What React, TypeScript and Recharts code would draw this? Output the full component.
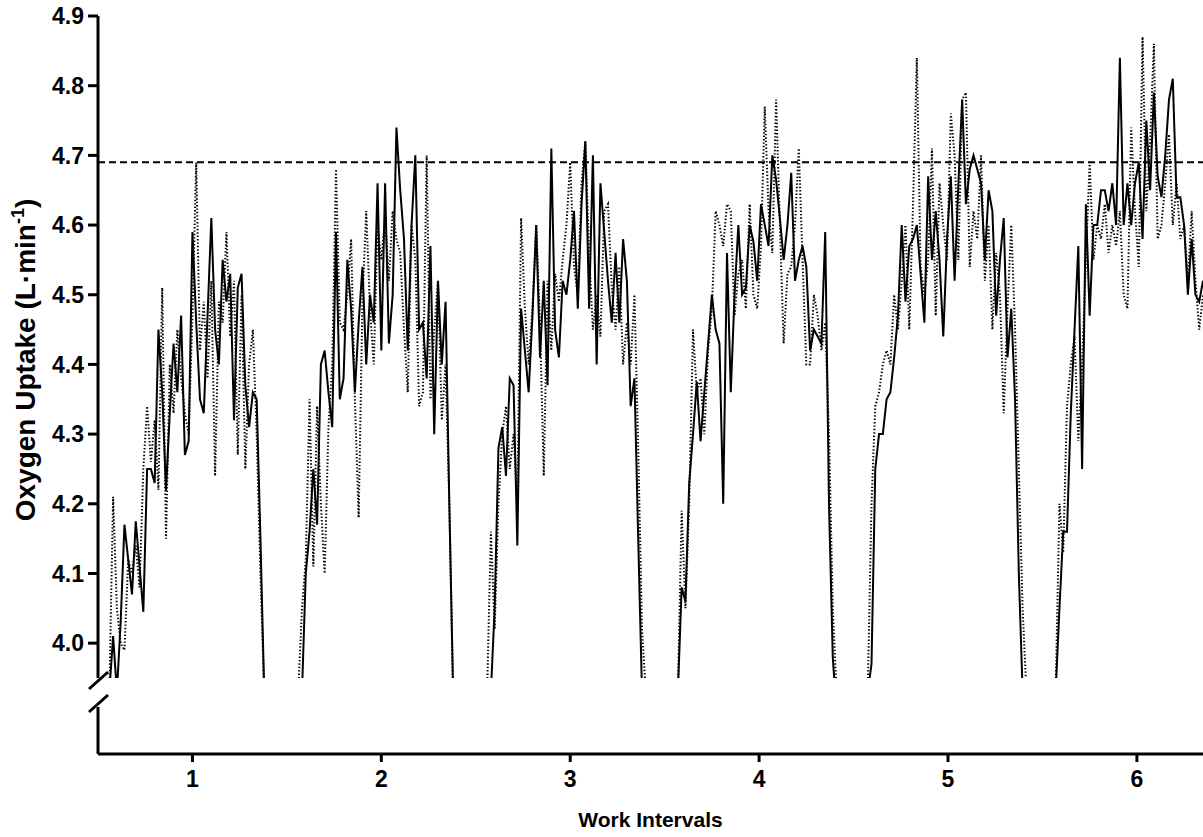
import React from "react";
import { ComposedChart, LineChart, Line, XAxis, YAxis, ReferenceLine } from "recharts";

const FONT = "'Liberation Sans', Arial, Helvetica, sans-serif";

// start time of each work interval and sampling step (x units)
const intervalStarts = [0.56, 1.56, 2.56, 3.57, 4.575, 5.57];
const sampleStep = 0.02;

const xTicks = [1, 2, 3, 4, 5, 6];
const yTicks = [4.0, 4.1, 4.2, 4.3, 4.4, 4.5, 4.6, 4.7, 4.8, 4.9];
const threshold = 4.69;

// solid trace, one array per interval (L/min)
const solid1 = [3.93, 4.01, 3.93, 4.03, 4.17, 4.12, 4.07, 4.175, 4.11, 4.045, 4.25, 4.25, 4.23, 4.45, 4.36, 4.22, 4.33, 4.43, 4.36, 4.47, 4.27, 4.29, 4.59, 4.46, 4.35, 4.33, 4.47, 4.61, 4.45, 4.4, 4.55, 4.49, 4.53, 4.32, 4.51, 4.53, 4.37, 4.31, 4.36, 4.35, 4.15, 3.93];
const solid2 = [3.93, 3.93, 4.1, 4.16, 4.25, 4.17, 4.4, 4.42, 4.36, 4.31, 4.59, 4.35, 4.38, 4.55, 4.48, 4.36, 4.46, 4.54, 4.4, 4.5, 4.46, 4.66, 4.42, 4.66, 4.43, 4.5, 4.74, 4.65, 4.58, 4.42, 4.6, 4.7, 4.45, 4.46, 4.38, 4.57, 4.3, 4.52, 4.4, 4.49, 4.2, 3.93];
const solid3 = [3.93, 3.93, 4.05, 4.28, 4.31, 4.24, 4.38, 4.37, 4.14, 4.48, 4.42, 4.36, 4.47, 4.6, 4.41, 4.52, 4.37, 4.71, 4.45, 4.41, 4.52, 4.5, 4.55, 4.62, 4.48, 4.63, 4.72, 4.48, 4.7, 4.4, 4.66, 4.59, 4.52, 4.46, 4.56, 4.46, 4.58, 4.52, 4.34, 4.38, 4.15, 3.93, 3.9];
const solid4 = [3.93, 4.08, 4.06, 4.23, 4.3, 4.375, 4.29, 4.36, 4.43, 4.5, 4.45, 4.43, 4.2, 4.56, 4.36, 4.5, 4.6, 4.5, 4.51, 4.6, 4.576, 4.52, 4.63, 4.6, 4.57, 4.7, 4.665, 4.61, 4.55, 4.6, 4.675, 4.52, 4.55, 4.57, 4.54, 4.42, 4.45, 4.44, 4.43, 4.59, 4.2, 3.98, 3.9];
const solid5 = [3.93, 3.97, 4.25, 4.3, 4.3, 4.35, 4.36, 4.41, 4.47, 4.6, 4.49, 4.57, 4.58, 4.6, 4.53, 4.46, 4.67, 4.55, 4.62, 4.55, 4.44, 4.58, 4.67, 4.52, 4.66, 4.78, 4.63, 4.68, 4.7, 4.68, 4.66, 4.55, 4.65, 4.62, 4.47, 4.55, 4.61, 4.41, 4.48, 4.35, 4.1, 3.93, 3.9];
const solid6 = [3.93, 4.05, 4.16, 4.16, 4.33, 4.45, 4.57, 4.25, 4.63, 4.47, 4.6, 4.6, 4.65, 4.65, 4.62, 4.66, 4.6, 4.84, 4.6, 4.66, 4.6, 4.66, 4.69, 4.58, 4.75, 4.65, 4.79, 4.67, 4.64, 4.7, 4.78, 4.81, 4.64, 4.64, 4.6, 4.5, 4.58, 4.5, 4.49, 4.52];

// dotted trace, one array per interval (L/min)
const dotted1 = [3.93, 4.21, 4.05, 4.0, 3.99, 4.12, 4.1, 4.14, 4.08, 4.25, 4.34, 4.26, 4.32, 4.22, 4.51, 4.15, 4.4, 4.33, 4.45, 4.38, 4.33, 4.3, 4.47, 4.69, 4.42, 4.49, 4.38, 4.52, 4.24, 4.49, 4.46, 4.59, 4.44, 4.52, 4.27, 4.5, 4.25, 4.4, 4.45, 4.3, 4.1, 3.93];
const dotted2 = [3.93, 4.05, 4.12, 4.35, 4.11, 4.34, 4.2, 4.1, 4.31, 4.4, 4.68, 4.46, 4.45, 4.5, 4.58, 4.35, 4.18, 4.49, 4.62, 4.48, 4.4, 4.6, 4.55, 4.61, 4.52, 4.62, 4.58, 4.56, 4.45, 4.36, 4.6, 4.55, 4.34, 4.36, 4.7, 4.35, 4.45, 4.52, 4.32, 4.4, 4.2, 3.93];
const dotted3 = [3.93, 4.16, 4.02, 4.2, 4.3, 4.34, 4.25, 4.3, 4.2, 4.61, 4.48, 4.4, 4.48, 4.6, 4.46, 4.24, 4.52, 4.42, 4.53, 4.49, 4.55, 4.6, 4.69, 4.54, 4.5, 4.66, 4.72, 4.56, 4.45, 4.5, 4.44, 4.62, 4.63, 4.51, 4.45, 4.54, 4.4, 4.46, 4.4, 4.5, 4.28, 4.02, 3.93];
const dotted4 = [3.93, 4.19, 4.05, 4.2, 4.45, 4.36, 4.38, 4.3, 4.42, 4.48, 4.62, 4.6, 4.57, 4.63, 4.62, 4.47, 4.53, 4.55, 4.48, 4.63, 4.5, 4.48, 4.57, 4.77, 4.62, 4.56, 4.78, 4.6, 4.43, 4.53, 4.54, 4.6, 4.71, 4.55, 4.4, 4.4, 4.5, 4.47, 4.42, 4.46, 4.3, 4.05, 3.93];
const dotted5 = [3.93, 4.2, 4.34, 4.36, 4.4, 4.42, 4.4, 4.5, 4.45, 4.52, 4.6, 4.45, 4.63, 4.84, 4.54, 4.5, 4.55, 4.71, 4.47, 4.66, 4.6, 4.55, 4.76, 4.7, 4.55, 4.78, 4.79, 4.54, 4.62, 4.58, 4.7, 4.52, 4.6, 4.45, 4.56, 4.5, 4.33, 4.48, 4.6, 4.45, 4.25, 4.05, 3.93];
const dotted6 = [3.93, 4.2, 4.13, 4.34, 4.4, 4.44, 4.29, 4.4, 4.55, 4.69, 4.55, 4.6, 4.58, 4.63, 4.56, 4.6, 4.57, 4.62, 4.5, 4.48, 4.74, 4.62, 4.54, 4.87, 4.62, 4.72, 4.86, 4.58, 4.6, 4.66, 4.73, 4.6, 4.66, 4.58, 4.6, 4.52, 4.62, 4.52, 4.45, 4.5];

const solidTraces = [solid1, solid2, solid3, solid4, solid5, solid6];
const dottedTraces = [dotted1, dotted2, dotted3, dotted4, dotted5, dotted6];

type Row = { t: number; solid: number | null; dotted: number | null };

function buildRows(): Row[] {
  const rows: Row[] = [];
  intervalStarts.forEach((start, k) => {
    const s = solidTraces[k];
    const d = dottedTraces[k];
    s.forEach((v, i) => {
      rows.push({ t: +(start + i * sampleStep).toFixed(3), solid: v, dotted: d[i] ?? null });
    });
    // break the lines between intervals
    rows.push({ t: +(start + s.length * sampleStep + 0.03).toFixed(3), solid: null, dotted: null });
  });
  return rows;
}

const rows = buildRows();

const axisStroke = { stroke: "#000", strokeWidth: 3 };
const TICK_SIZE = 23;

function YTick(props: any) {
  const { x, y, payload } = props;
  const v = Number(payload.value);
  return (
    <text x={x} y={y} dy="0.36em" textAnchor="end" fill="#000" fontSize={TICK_SIZE} fontWeight={700} fontFamily={FONT}>
      {v === 0 ? "0" : v.toFixed(1)}
    </text>
  );
}

function XTick(props: any) {
  const { x, y, payload } = props;
  return (
    <text x={x} y={y} dy="0.72em" textAnchor="middle" fill="#000" fontSize={TICK_SIZE} fontWeight={700} fontFamily={FONT}>
      {payload.value}
    </text>
  );
}

function OxygenLabel(props: any) {
  const vb = props.viewBox || { y: 16, height: 662 };
  const x = 35;
  const y = vb.y + vb.height / 2 + 13;
  return (
    <text
      x={x}
      y={y}
      transform={`rotate(-90 ${x} ${y})`}
      textAnchor="middle"
      fill="#000"
      fontSize={28}
      fontWeight={700}
      fontFamily={FONT}
    >
      Oxygen Uptake (L·min
      <tspan dy={-11} fontSize={18}>-1</tspan>
      <tspan dy={11}>)</tspan>
    </text>
  );
}

function XTitle(props: any) {
  const vb = props.viewBox || { x: 98, y: 64, width: 1105, height: 83 };
  const cx = vb.x + vb.width / 2;
  const y = vb.y + vb.height - 10;
  return (
    <text x={cx} y={y} textAnchor="middle" fill="#000" fontSize={21} fontWeight={700} fontFamily={FONT}>
      Work Intervals
    </text>
  );
}

export default function App() {
  return (
    <div style={{ position: "absolute", left: 0, top: 0, width: 1203, height: 837, background: "#fff" }}>
      <div style={{ position: "absolute", left: 0, top: 0 }}>
        <ComposedChart width={1203} height={680} data={rows} margin={{ top: 16, right: 0, left: 0, bottom: 2 }}>
          <XAxis dataKey="t" type="number" domain={[0.5, 6.35]} allowDataOverflow hide />
          <YAxis
            type="number"
            domain={[3.95, 4.9]}
            allowDataOverflow
            ticks={yTicks}
            width={98}
            tickSize={10}
            tickMargin={4}
            axisLine={axisStroke}
            tickLine={axisStroke}
            tick={<YTick />}
            label={<OxygenLabel />}
          />
          <ReferenceLine y={threshold} stroke="#000" strokeWidth={2} strokeDasharray="7 4" />
          <Line
            type="linear"
            dataKey="dotted"
            stroke="#000"
            strokeWidth={2}
            strokeDasharray="1.4 2"
            dot={false}
            activeDot={false}
            connectNulls={false}
            isAnimationActive={false}
          />
          <Line
            type="linear"
            dataKey="solid"
            stroke="#000"
            strokeWidth={2}
            dot={false}
            activeDot={false}
            connectNulls={false}
            isAnimationActive={false}
          />
        </ComposedChart>
      </div>
      <div style={{ position: "absolute", left: 0, top: 690 }}>
        <LineChart width={1203} height={147} data={rows} margin={{ top: 17, right: 0, left: 0, bottom: 0 }}>
          <XAxis
            dataKey="t"
            type="number"
            domain={[0.5, 6.35]}
            allowDataOverflow
            ticks={xTicks}
            height={83}
            tickSize={8}
            tickMargin={8}
            axisLine={axisStroke}
            tickLine={axisStroke}
            tick={<XTick />}
            label={<XTitle />}
          />
          <YAxis
            type="number"
            domain={[0, 1]}
            ticks={[0]}
            width={98}
            tickSize={10}
            tickMargin={4}
            axisLine={axisStroke}
            tickLine={axisStroke}
            tick={<YTick />}
          />
        </LineChart>
      </div>
      <svg width={1203} height={837} style={{ position: "absolute", left: 0, top: 0, pointerEvents: "none" }}>
        <line x1={89} y1={689} x2={108} y2={672} stroke="#000" strokeWidth={3} />
        <line x1={89} y1={712} x2={108} y2={695} stroke="#000" strokeWidth={3} />
      </svg>
    </div>
  );
}
